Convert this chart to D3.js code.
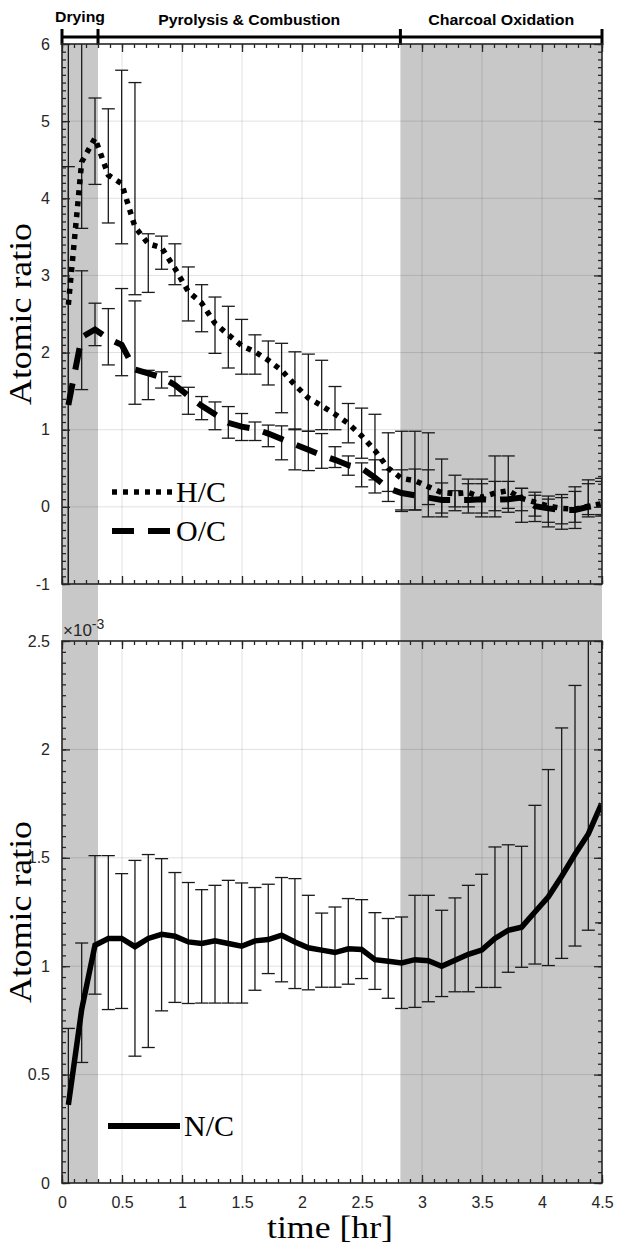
<!DOCTYPE html>
<html>
<head>
<meta charset="utf-8">
<script src="https://cdn.jsdelivr.net/npm/d3@7"></script>
<style>
  body { margin: 0; background: #fff; }
  svg { display: block; }
  .tick-label { font-family: "Liberation Sans", Arial, sans-serif; font-size: 16px; fill: #262626; }
  .serif { font-family: "Liberation Serif", "DejaVu Serif", serif; fill: #000; font-weight: normal; }
</style>
</head>
<body>
<div id="canvas"></div>
<script>
// sample times [hr]
const times = [0.053, 0.164, 0.275, 0.386, 0.497, 0.608, 0.719, 0.830, 0.941, 1.053,
  1.164, 1.275, 1.386, 1.497, 1.608, 1.719, 1.830, 1.941, 2.053, 2.164,
  2.275, 2.386, 2.497, 2.608, 2.719, 2.830, 2.941, 3.053, 3.164, 3.275,
  3.386, 3.497, 3.608, 3.719, 3.830, 3.941, 4.053, 4.164, 4.275, 4.386, 4.497];

// H/C
const hc = [2.62, 4.47, 4.78, 4.30, 4.19, 3.63, 3.41, 3.36, 3.09, 2.79,
  2.64, 2.38, 2.23, 2.09, 2.01, 1.90, 1.77, 1.58, 1.41, 1.31,
  1.20, 1.08, 0.92, 0.73, 0.50, 0.37, 0.34, 0.26, 0.185, 0.17,
  0.185, 0.125, 0.18, 0.21, 0.11, 0.06, 0.01, -0.02, -0.03, 0.01, 0.04];
const hcLo = [-2.0, 3.61, 4.18, 3.68, 3.41, 2.75, 2.78, 3.08, 2.88, 2.41,
  2.27, 1.99, 1.80, 1.72, 1.72, 1.58, 1.22, 1.00, 0.98, 1.00,
  1.00, 0.83, 0.63, 0.35, 0.07, -0.06, -0.04, -0.13, -0.08, 0.00,
  0.00, -0.08, -0.13, -0.07, -0.20, -0.19, -0.26, -0.29, -0.28, -0.13, -0.12];
const hcHi = [8.0, 6.6, 5.30, 5.16, 5.66, 5.50, 3.54, 3.51, 3.41, 3.11,
  2.88, 2.72, 2.60, 2.43, 2.23, 2.15, 2.12, 2.01, 1.98, 1.90,
  1.56, 1.34, 1.28, 1.20, 0.96, 0.98, 0.98, 0.96, 0.62, 0.41,
  0.36, 0.36, 0.66, 0.66, 0.24, 0.19, 0.14, 0.16, 0.26, 0.35, 0.37];

// O/C
const oc = [1.32, 2.20, 2.30, 2.18, 2.10, 1.78, 1.73, 1.68, 1.58, 1.44,
  1.31, 1.20, 1.09, 1.04, 1.01, 0.95, 0.88, 0.81, 0.74, 0.67,
  0.61, 0.54, 0.50, 0.38, 0.24, 0.18, 0.15, 0.12, 0.09, 0.09,
  0.09, 0.10, 0.09, 0.10, 0.12, 0.01, -0.02, -0.04, -0.04, 0.00, 0.03];
const ocLo = [-2.0, 1.52, 2.09, 1.84, 1.70, 1.33, 1.39, 1.54, 1.44, 1.20,
  1.13, 1.00, 0.89, 0.86, 0.86, 0.78, 0.61, 0.48, 0.47, 0.50,
  0.51, 0.41, 0.26, 0.18, 0.20, -0.04, -0.04, 0.03, -0.13, -0.05,
  -0.08, -0.13, -0.05, -0.02, -0.05, -0.12, -0.20, -0.22, -0.20, -0.10, -0.10];
const ocHi = [4.41, 3.06, 2.64, 2.57, 2.83, 2.67, 1.77, 1.75, 1.69, 1.55,
  1.43, 1.36, 1.30, 1.21, 1.10, 1.06, 1.05, 1.01, 0.98, 0.95,
  0.78, 0.66, 0.57, 0.61, 0.48, 0.48, 0.49, 0.48, 0.31, 0.21,
  0.30, 0.30, 0.33, 0.33, 0.24, 0.15, 0.10, 0.12, 0.20, 0.30, 0.33];

// N/C  (x 1e-3)
const nc = [0.36, 0.80, 1.097, 1.128, 1.128, 1.09, 1.128, 1.147, 1.138, 1.112,
  1.105, 1.117, 1.105, 1.092, 1.117, 1.123, 1.143, 1.112, 1.085, 1.074,
  1.063, 1.08, 1.077, 1.03, 1.023, 1.015, 1.03, 1.025, 1.00, 1.028,
  1.055, 1.074, 1.128, 1.166, 1.18, 1.25, 1.32, 1.415, 1.516, 1.61, 1.75];
const ncLo = [-0.05, 0.556, 0.871, 0.80, 0.805, 0.585, 0.625, 0.794, 0.833, 0.828,
  0.83, 0.83, 0.83, 0.83, 0.889, 0.966, 0.928, 0.897, 0.891, 0.903,
  0.903, 0.917, 0.943, 0.893, 0.852, 0.805, 0.81, 0.836, 0.86, 0.882,
  0.882, 0.902, 0.902, 0.972, 0.995, 1.01, 1.003, 1.036, 1.093, 1.166, 1.20];
const ncHi = [0.713, 1.107, 1.51, 1.51, 1.427, 1.488, 1.515, 1.496, 1.432, 1.386,
  1.353, 1.373, 1.396, 1.384, 1.363, 1.378, 1.409, 1.404, 1.327, 1.245,
  1.273, 1.312, 1.307, 1.247, 1.22, 1.227, 1.327, 1.327, 1.258, 1.315,
  1.373, 1.424, 1.55, 1.56, 1.553, 1.742, 1.907, 2.099, 2.295, 2.7, 3.0];

// process phases
const phaseNames = ["Drying", "Pyrolysis & Combustion", "Charcoal Oxidation"];
const phaseEdges = [0, 0.3, 2.82, 4.5];
const shadedPhases = [[0, 0.3], [2.82, 4.5]];

const topTicks = [-1, 0, 1, 2, 3, 4, 5, 6];
const botTicks = [0, 0.5, 1, 1.5, 2, 2.5];
const xTicks = [0, 0.5, 1, 1.5, 2, 2.5, 3, 3.5, 4, 4.5];

const W = 617, H = 1248;
const left = 62, right = 602;
const top1 = 44, bot1 = 584;
const top2 = 641, bot2 = 1183;

const svg = d3.select('#canvas').append('svg')
  .attr('width', W)
  .attr('height', H);

const x = d3.scaleLinear().domain([0, 4.5]).range([left, right]);
const y1 = d3.scaleLinear().domain([-1, 6]).range([bot1, top1]);
const y2 = d3.scaleLinear().domain([0, 2.5]).range([bot2, top2]);

// shading across both panels
svg.selectAll('rect.phase')
  .data(shadedPhases)
  .enter().append('rect')
  .attr('class', 'phase')
  .attr('x', d => x(d[0]))
  .attr('width', d => x(d[1]) - x(d[0]))
  .attr('y', top1)
  .attr('height', bot2 - top1)
  .attr('fill', '#c8c8c8');

// phase header bracket
const hdrY = 37;
svg.append('line')
  .attr('x1', x(0)).attr('x2', x(4.5))
  .attr('y1', hdrY).attr('y2', hdrY)
  .attr('stroke', '#000').attr('stroke-width', 3);
svg.selectAll('line.edge')
  .data(phaseEdges)
  .enter().append('line')
  .attr('class', 'edge')
  .attr('x1', d => x(d)).attr('x2', d => x(d))
  .attr('y1', hdrY - 8).attr('y2', hdrY + 8)
  .attr('stroke', '#000').attr('stroke-width', 3);
const hdrX = [x(0.15), (x(0.3) + x(2.82)) / 2, (x(2.82) + x(4.5)) / 2];
const hdrLen = [50, 182, 146];
phaseNames.forEach((name, i) => {
  svg.append('text')
    .attr('x', hdrX[i])
    .attr('y', i === 0 ? 22 : 25)
    .attr('text-anchor', 'middle')
    .attr('font-family', 'Liberation Sans, Arial, sans-serif')
    .attr('font-weight', 'bold')
    .attr('font-size', 14)
    .attr('textLength', hdrLen[i])
    .attr('lengthAdjust', 'spacingAndGlyphs')
    .text(name);
});

function panel(yScale, yTop, yBot, yMajor, id) {
  const g = svg.append('g');
  svg.append('clipPath').attr('id', id)
    .append('rect')
    .attr('x', left).attr('y', yTop)
    .attr('width', right - left).attr('height', yBot - yTop);

  // grid
  g.selectAll('line.gx')
    .data(xTicks.slice(1, -1))
    .enter().append('line')
    .attr('x1', d => x(d)).attr('x2', d => x(d))
    .attr('y1', yTop).attr('y2', yBot)
    .attr('stroke', '#000').attr('stroke-opacity', 0.12);
  g.selectAll('line.gy')
    .data(yMajor.slice(1, -1))
    .enter().append('line')
    .attr('y1', d => yScale(d)).attr('y2', d => yScale(d))
    .attr('x1', left).attr('x2', right)
    .attr('stroke', '#000').attr('stroke-opacity', 0.12);

  const plot = g.append('g').attr('clip-path', `url(#${id})`);
  return {g, plot};
}

function drawFrame(g, yScale, yTop, yBot, yMajor, yMinorStep, xLabels) {
  const [y0, y1v] = yScale.domain();
  const minorY = d3.range(y0, y1v + 1e-9, yMinorStep);
  const minorX = d3.range(0, 4.5 + 1e-9, 0.1);

  g.append('g').attr('transform', `translate(${left},0)`)
    .call(d3.axisLeft(yScale).tickValues(minorY).tickSize(-4).tickFormat(''))
    .call(a => a.select('.domain').remove());
  g.append('g').attr('transform', `translate(${right},0)`)
    .call(d3.axisRight(yScale).tickValues(minorY).tickSize(-4).tickFormat(''))
    .call(a => a.select('.domain').remove());
  g.append('g').attr('transform', `translate(0,${yBot})`)
    .call(d3.axisBottom(x).tickValues(minorX).tickSize(-4).tickFormat(''))
    .call(a => a.select('.domain').remove());
  g.append('g').attr('transform', `translate(0,${yTop})`)
    .call(d3.axisTop(x).tickValues(minorX).tickSize(-4).tickFormat(''))
    .call(a => a.select('.domain').remove());

  const yAxis = g.append('g').attr('transform', `translate(${left},0)`)
    .call(d3.axisLeft(yScale).tickValues(yMajor).tickSize(-8).tickPadding(12)
      .tickFormat(d => String(d)));
  yAxis.select('.domain').remove();
  yAxis.selectAll('text').attr('class', 'tick-label').attr('fill', null);
  g.append('g').attr('transform', `translate(${right},0)`)
    .call(d3.axisRight(yScale).tickValues(yMajor).tickSize(-8).tickFormat(''))
    .call(a => a.select('.domain').remove());
  const xAxis = g.append('g').attr('transform', `translate(0,${yBot})`)
    .call(d3.axisBottom(x).tickValues(xTicks).tickSize(-8).tickPadding(14)
      .tickFormat(xLabels ? (d => String(d)) : ''));
  xAxis.select('.domain').remove();
  xAxis.selectAll('text').attr('class', 'tick-label').attr('fill', null);
  g.append('g').attr('transform', `translate(0,${yTop})`)
    .call(d3.axisTop(x).tickValues(xTicks).tickSize(-8).tickFormat(''))
    .call(a => a.select('.domain').remove());

  g.selectAll('.tick line').attr('stroke', '#262626').attr('stroke-width', 1.3);

  g.append('rect')
    .attr('x', left).attr('y', yTop)
    .attr('width', right - left).attr('height', yBot - yTop)
    .attr('fill', 'none').attr('stroke', '#262626').attr('stroke-width', 1.6);
}

function errorBars(plot, yScale, lo, hi) {
  const eb = plot.append('g').attr('stroke', '#1a1a1a').attr('stroke-width', 1.3);
  times.forEach((t, i) => {
    const cx = x(t);
    eb.append('line').attr('x1', cx).attr('x2', cx)
      .attr('y1', yScale(lo[i])).attr('y2', yScale(hi[i]));
    [lo[i], hi[i]].forEach(v => {
      eb.append('line').attr('x1', cx - 6.5).attr('x2', cx + 6.5)
        .attr('y1', yScale(v)).attr('y2', yScale(v));
    });
  });
}

function series(plot, yScale, vals, dash, width) {
  const line = d3.line().x((d, i) => x(times[i])).y(d => yScale(d));
  plot.append('path')
    .datum(vals)
    .attr('d', line)
    .attr('fill', 'none')
    .attr('stroke', '#000')
    .attr('stroke-width', width)
    .attr('stroke-dasharray', dash);
}

// ---- top panel
const p1 = panel(y1, top1, bot1, topTicks, 'clip1');
errorBars(p1.plot, y1, hcLo, hcHi);
errorBars(p1.plot, y1, ocLo, ocHi);
series(p1.plot, y1, oc, '22,14', 6);
series(p1.plot, y1, hc, '5,6', 5.5);
drawFrame(p1.g, y1, top1, bot1, topTicks, 0.1, false);

// ---- bottom panel
const p2 = panel(y2, top2, bot2, botTicks, 'clip2');
errorBars(p2.plot, y2, ncLo, ncHi);
series(p2.plot, y2, nc, null, 5.5);
drawFrame(p2.g, y2, top2, bot2, botTicks, 0.05, true);

// legends
const legends = [
  {label: 'H/C', y: 492, dash: '5,6', w: 5.5, x0: 112, x1: 172, tx: 176},
  {label: 'O/C', y: 531, dash: '22,14', w: 6, x0: 112, x1: 178, tx: 176},
  {label: 'N/C', y: 1126, dash: null, w: 6, x0: 108, x1: 180, tx: 184}
];
legends.forEach(l => {
  svg.append('line')
    .attr('x1', l.x0).attr('x2', l.x1)
    .attr('y1', l.y).attr('y2', l.y)
    .attr('stroke', '#000').attr('stroke-width', l.w)
    .attr('stroke-dasharray', l.dash);
  svg.append('text')
    .attr('class', 'serif')
    .attr('x', l.tx).attr('y', l.y + 10)
    .attr('font-size', 30)
    .text(l.label);
});

// axis titles
[(top1 + bot1) / 2, (top2 + bot2) / 2].forEach(cy => {
  svg.append('text')
    .attr('class', 'serif')
    .attr('transform', `translate(31,${cy}) rotate(-90)`)
    .attr('text-anchor', 'middle')
    .attr('font-size', 31)
    .attr('textLength', 182)
    .attr('lengthAdjust', 'spacingAndGlyphs')
    .text('Atomic ratio');
});
svg.append('text')
  .attr('class', 'serif')
  .attr('x', 330)
  .attr('y', 1238)
  .attr('text-anchor', 'middle')
  .attr('font-size', 32)
  .attr('textLength', 126)
  .attr('lengthAdjust', 'spacingAndGlyphs')
  .text('time [hr]');

// exponent marker
const ex = svg.append('text')
  .attr('x', left + 1).attr('y', 636)
  .attr('font-family', 'Liberation Sans, Arial, sans-serif')
  .attr('font-size', 17)
  .attr('fill', '#262626')
  .text('×10');
ex.append('tspan').attr('dy', -7).attr('font-size', 14).text('-3');
</script>
</body>
</html>
